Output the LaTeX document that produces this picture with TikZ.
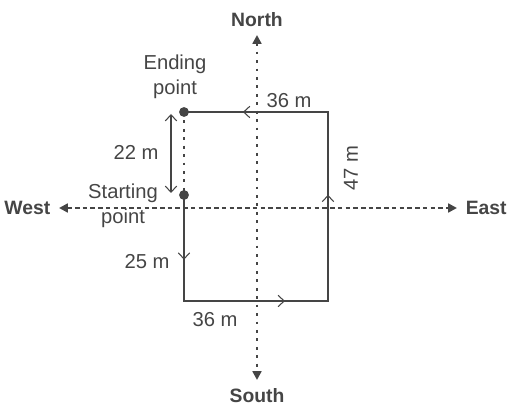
\documentclass[tikz,border=0pt]{standalone}
\usepackage{fontspec}
\setmainfont{Liberation Sans}
\usetikzlibrary{arrows.meta,decorations.markings}
\definecolor{ink}{HTML}{454545}

\tikzset{
  chev/.tip={Straight Barb[length=3.5pt,width=6.5pt,line width=0.6pt]},
  axistip/.tip={Triangle[length=5pt,width=5pt]},
  compass/.style={font=\fontsize{11}{13}\selectfont\bfseries, inner sep=0pt, outer sep=5pt},
  hzaxis/.style={draw, ink, line width=1.4pt, dash pattern=on 2.6pt off 1.8pt, {axistip}-{axistip}},
  vtaxis/.style={draw, ink, line width=1.6pt, dash pattern=on 1.6pt off 3.2pt, {axistip}-{axistip}},
  walk/.style={draw, ink, line width=1.4pt, line join=miter},
}

\begin{document}
\begin{tikzpicture}[x=.02cm, y=-.02cm, font=\fontsize{11.5}{14.2}\selectfont, text=ink]
\useasboundingbox (0,0) rectangle (515,408);
\def\xl{184} \def\xr{328} \def\yt{112} \def\yb{301}
% corners of the walk
\coordinate (start) at (\xl,195);
\coordinate (stop) at (\xl,\yt);
\coordinate (sw) at (\xl,\yb);
\coordinate (se) at (\xr,\yb);
\coordinate (ne) at (\xr,\yt);
% compass directions
\node [compass, anchor=east] (west) at (59,208) {West};
\node [compass, anchor=west] (east) at (457,208) {East};
\node [compass, anchor=south] (north) at (257,35) {North};
\node [compass, anchor=north] (south) at (257,380) {South};
\path [hzaxis] (west) -- (east);
\path [vtaxis] (north) -- (south);
% the walk
\path [draw, ink, line width=1.6pt, dash pattern=on 1.6pt off 3.2pt] (stop) -- (start);
\path [walk, postaction={decorate}, decoration={markings,
    mark=at position .111 with {\arrow{chev}},
    mark=at position .355 with {\arrow{chev}},
    mark=at position .611 with {\arrow{chev}},
    mark=at position .899 with {\arrow{chev}}}]
  (start) -- (sw) -- (se) -- (ne) -- (stop);
\fill [ink] (start) circle (2.8pt);
\fill [ink] (stop) circle (2.8pt);
% 22 m
\coordinate (uptop) at (171,114);
\coordinate (upbot) at (171,193);
\path [draw, ink, line width=0.9pt, {chev}-{chev}] (upbot) -- (uptop);
\node (l22) at (136,152) {22 m};
\node (l25) at (147,262) {25 m};
\node (l36b) at (215,320) {36 m};
\node (l36t) at (289,101) {36 m};
\node [rotate=90] (l47) at (351,168) {47 m};
\node [align=center] (endlbl) at (175,77) {Ending\\point};
\node [align=center] (startlbl) at (123,206) {Starting\\point};
\end{tikzpicture}
\end{document}
